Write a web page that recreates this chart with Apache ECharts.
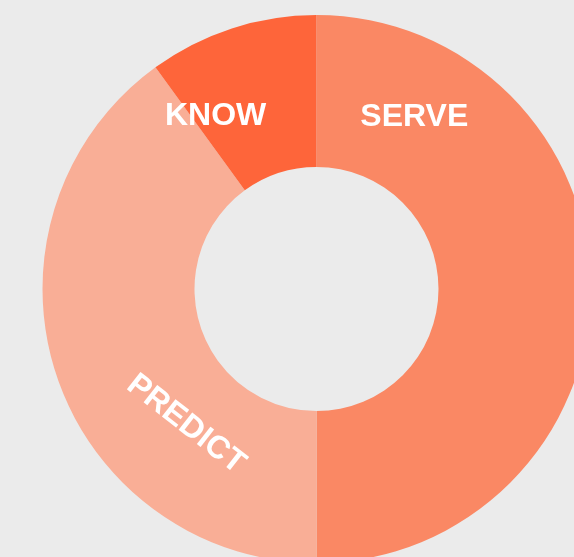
<!DOCTYPE html>
<html>
<head>
<meta charset="utf-8">
<script src="https://cdn.jsdelivr.net/npm/echarts@6/dist/echarts.min.js"></script>
<style>
  html, body { margin: 0; padding: 0; background: #ebebeb; }
  #chart { width: 574px; height: 557px; }
</style>
</head>
<body>
<div id="chart"></div>
<script>
// slices, clockwise from the top
let categories = ["SERVE", "PREDICT", "KNOW"];
let values = [50, 40, 10];
let colors = ["#fa8864", "#f9ae96", "#fe653a"];

// where each label sits: angle clockwise from top (deg), distance from center, text rotation
let labelSpots = [
   { angle: 29.6, dist: 198, rotate: 0 },
   { angle: 224, dist: 188, rotate: -38 },
   { angle: -30.3, dist: 200, rotate: 0 }
];

let cx = 316.5, cy = 289;

let myChart = echarts.init(document.getElementById("chart"));
myChart.setOption({
   backgroundColor: "#ebebeb",
   animation: false,
   series: [{
      type: "pie",
      center: [cx, cy],
      radius: [122, 274],
      startAngle: 90,
      clockwise: true,
      avoidLabelOverlap: false,
      emphasis: { disabled: true },
      label: {
         show: true,
         position: "inside",
         formatter: "{b}",
         color: "#ffffff",
         fontFamily: "Liberation Sans, Arial, sans-serif",
         fontWeight: "bold",
         fontSize: 32
      },
      labelLine: { show: false },
      labelLayout: function(params) {
         let s = labelSpots[params.dataIndex];
         let a = s.angle * Math.PI / 180;
         return {
            x: cx + s.dist * Math.sin(a),
            y: cy - s.dist * Math.cos(a),
            rotate: s.rotate,
            align: "center",
            verticalAlign: "middle"
         };
      },
      data: categories.map(function(name, i) {
         return { name: name, value: values[i], itemStyle: { color: colors[i] } };
      })
   }]
});
</script>
</body>
</html>
